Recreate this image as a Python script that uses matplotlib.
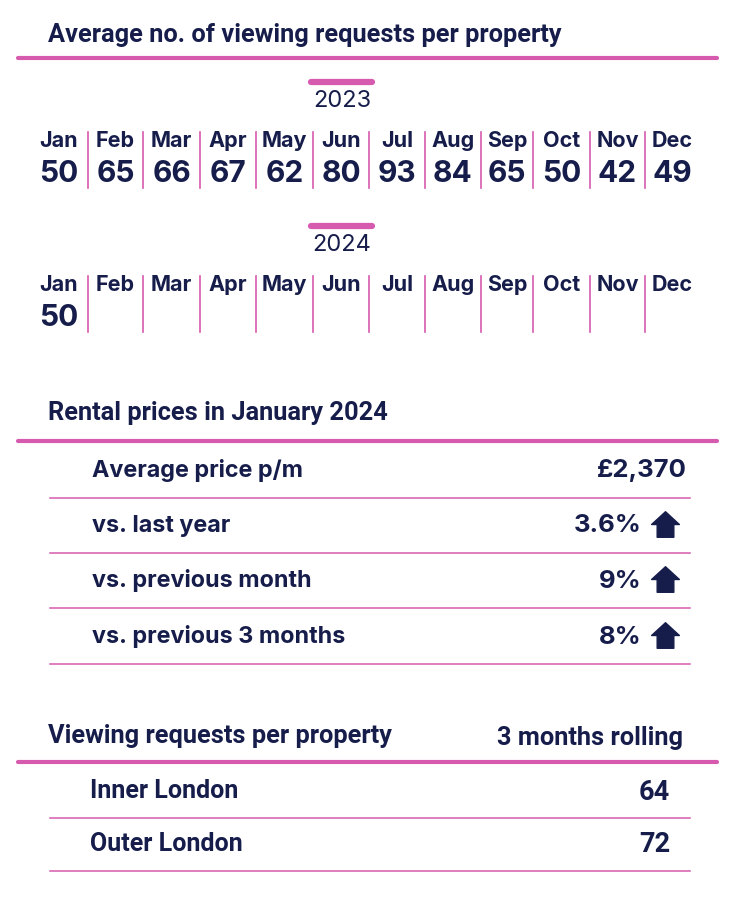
import matplotlib
matplotlib.use("Agg")
import matplotlib.pyplot as plt
from matplotlib.path import Path

# Data
months = ["Jan", "Feb", "Mar", "Apr", "May", "Jun",
          "Jul", "Aug", "Sep", "Oct", "Nov", "Dec"]
requests_2023 = [50, 65, 66, 67, 62, 80, 93, 84, 65, 50, 42, 49]
requests_2024 = [50]
years = ["2023", "2024"]

rental_labels = ["Average price p/m", "vs. last year",
                 "vs. previous month", "vs. previous 3 months"]
rental_values = ["£2,370", "3.6%", "9%", "8%"]
rental_up = [False, True, True, True]

region_labels = ["Inner London", "Outer London"]
region_values = [64, 72]

# Style
NAVY = "#161d4b"
PINK = "#d65aae"
HEAD_FONT = ["Roboto", "DejaVu Sans"]
BODY_FONT = ["Inter", "DejaVu Sans"]

# house-shaped "up" icon
up_icon = Path(
    [(0, 0.92), (1, 0.0), (0.6, 0.0), (0.6, -0.92), (-0.6, -0.92),
     (-0.6, 0.0), (-1, 0.0), (0, 0.92)],
    [Path.MOVETO] + [Path.LINETO] * 6 + [Path.CLOSEPOLY],
)

fig = plt.figure(figsize=(7.5, 9), dpi=100)
ax = fig.add_axes([0, 0, 1, 1])
ax.set_xlim(0, 750)
ax.set_ylim(900, 0)
ax.axis("off")


def heading(y, text, right=None, gap=24):
    ax.text(48, y, text, fontsize=18.3, fontweight="bold", family=HEAD_FONT,
            color=NAVY, va="center", ha="left")
    if right:
        ax.text(683, y + 2, right, fontsize=18.3, fontweight="bold",
                family=HEAD_FONT, color=NAVY, va="center", ha="right")
    ax.plot([18, 717], [y + gap, y + gap], color=PINK, lw=3,
            solid_capstyle="round")


# Section 1: monthly grid
heading(35, "Average no. of viewing requests per property", gap=23)

edges = [30, 88, 143, 200, 256, 313, 369, 425, 481, 533, 590, 645, 700]
centers = [(a + b) / 2 for a, b in zip(edges[:-1], edges[1:])]
blocks = [(82, requests_2023), (226, requests_2024)]

for year, (top, vals) in zip(years, blocks):
    ax.plot([311, 372], [top, top], color=PINK, lw=4.5,
            solid_capstyle="round")
    ax.text(342, top + 19, year, fontsize=17, family=BODY_FONT,
            color=NAVY, va="center", ha="center")
    for x in edges[1:-1]:
        ax.plot([x, x], [top + 50, top + 106], color=PINK, lw=1.2)
    for i, m in enumerate(months):
        ax.text(centers[i], top + 59, m, fontsize=15.5, fontweight="bold",
                family=BODY_FONT, color=NAVY, va="center", ha="center")
    for i, v in enumerate(vals):
        ax.text(centers[i], top + 92, str(v), fontsize=21.5,
                fontweight="bold", family=BODY_FONT, color=NAVY,
                va="center", ha="center")

# Section 2: rental prices
heading(413, "Rental prices in January 2024", gap=28)
row_y = [471, 526, 581, 637]
for y, lab, val, up in zip(row_y, rental_labels, rental_values, rental_up):
    ax.text(92, y, lab, fontsize=16.8, fontweight="bold", family=BODY_FONT,
            color=NAVY, va="center", ha="left")
    ax.text(642 if up else 687, y, val, fontsize=18.5, fontweight="bold",
            family=BODY_FONT, color=NAVY, va="center", ha="right")
    if up:
        ax.plot(665, y - 2, marker=up_icon, markersize=20, color=NAVY,
                linestyle="none")
    ax.plot([50, 690], [y + 27, y + 27], color=PINK, lw=1.1)

# Section 3: viewing requests by area
heading(736, "Viewing requests per property", right="3 months rolling",
        gap=26)
area_y = [791, 844]
for y, lab, val in zip(area_y, region_labels, region_values):
    ax.text(90, y, lab, fontsize=18, fontweight="bold", family=HEAD_FONT,
            color=NAVY, va="center", ha="left")
    ax.text(670, y + 1, str(val), fontsize=19.5, fontweight="bold",
            family=HEAD_FONT, color=NAVY, va="center", ha="right")
    ax.plot([50, 690], [y + 27, y + 27], color=PINK, lw=1.1)

fig.savefig("out.png", dpi=100, facecolor="white")
